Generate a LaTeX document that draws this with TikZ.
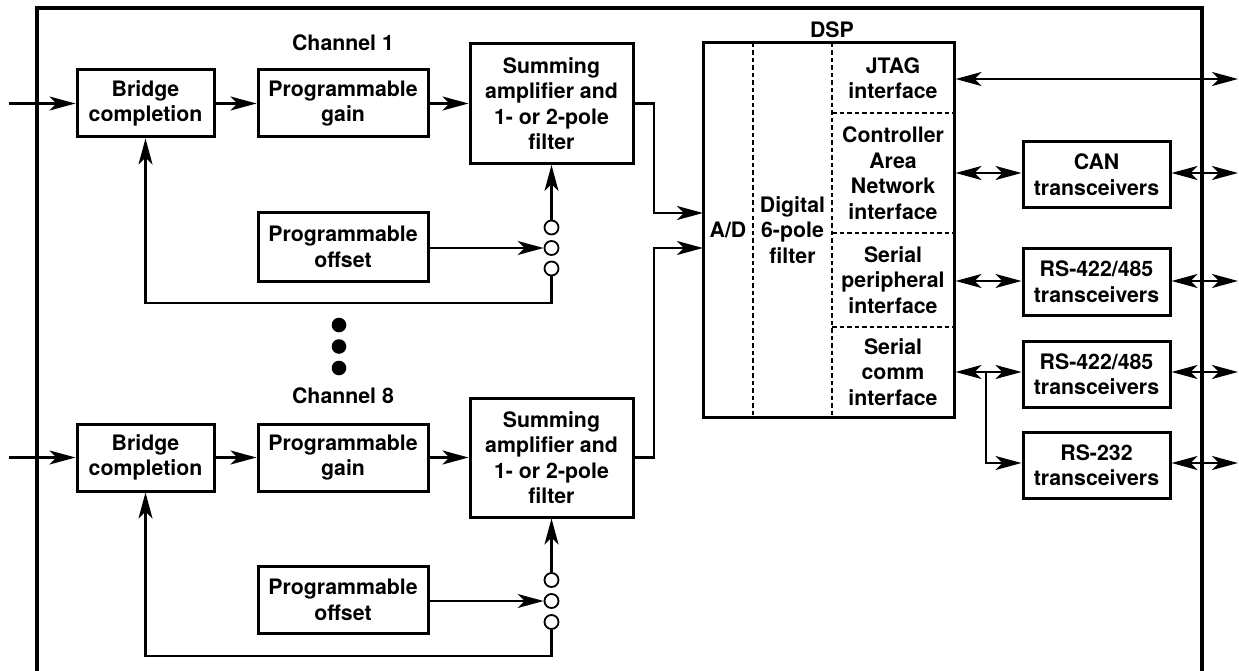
\documentclass[tikz,border=0pt]{standalone}
\usepackage{fontspec}
\setmainfont{TeX Gyre Heros}
\usetikzlibrary{arrows.meta}
\newcommand\figfont{\fontsize{21.3}{25.5}\selectfont\bfseries}
\begin{document}
\begin{tikzpicture}[x=1pt,y=-1pt,
  box/.style={draw, line width=3pt, inner sep=0pt, align=center, font=\figfont},
  lab/.style={inner sep=0pt, align=center, font=\figfont},
  tip/.tip={Stealth[length=26pt,width=14pt,inset=7pt]},
  arr/.style={line width=2.2pt, -tip},
  darr/.style={line width=2.2pt, tip-tip},
  sw/.style={circle, draw, line width=1.8pt, minimum size=14pt, inner sep=0pt},
  dsh/.style={line width=1.2pt, dash pattern=on 4.5pt off 3pt}]
\useasboundingbox (0,0) rectangle (1239,671);
% outer frame
\draw[line width=3.4pt] (37,671) -- (37,8) -- (1202,8) -- (1202,671);

% ---------- Channel 1
\node[lab] (ch1) at (343,43) {Channel 1};
\node[box, minimum width=137pt, minimum height=67pt] (br1) at (145.5,103.5) {Bridge\\completion};
\node[box, minimum width=170pt, minimum height=67pt] (ga1) at (343,103.5) {Programmable\\gain};
\node[box, minimum width=163pt, minimum height=120pt] (su1) at (551.5,103.5) {Summing\\amplifier and\\1- or 2-pole\\filter};
\node[box, minimum width=170pt, minimum height=68pt] (of1) at (343,247) {Programmable\\offset};
\node[sw] (s1a) at (551.5,227.5) {};
\node[sw] (s1b) at (551.5,248) {};
\node[sw] (s1c) at (551.5,268.5) {};
\coordinate (in1) at (9,103.5);
\coordinate (fb1) at (145.5,303);
\coordinate (ad1) at (703,213);
\draw[arr] (in1) -- (br1.west);
\draw[arr] (br1.east) -- (ga1.west);
\draw[arr] (ga1.east) -- (su1.west);
\draw[arr] (s1a.north) -- (su1.south);
\draw[arr] (of1.east |- s1b.west) -- (s1b.west);
\draw[arr] (s1c.south) |- (fb1) -- (br1.south);
\draw[arr] (su1.east) -- (654,103.5) |- (ad1);

% dots
\fill (339,325) circle (7.3pt);
\fill (339,346.5) circle (7.3pt);
\fill (339,368) circle (7.3pt);

% ---------- Channel 8
\node[lab] (ch8) at (343,396) {Channel 8};
\node[box, minimum width=137pt, minimum height=67pt] (br2) at (145.5,457.5) {Bridge\\completion};
\node[box, minimum width=170pt, minimum height=67pt] (ga2) at (343,457.5) {Programmable\\gain};
\node[box, minimum width=163pt, minimum height=119pt] (su2) at (551.5,457.5) {Summing\\amplifier and\\1- or 2-pole\\filter};
\node[box, minimum width=170pt, minimum height=67pt] (of2) at (343,600) {Programmable\\offset};
\node[sw] (s2a) at (551.5,580) {};
\node[sw] (s2b) at (551.5,601) {};
\node[sw] (s2c) at (551.5,622) {};
\coordinate (in2) at (9,457.5);
\coordinate (fb2) at (145.5,656);
\coordinate (ad2) at (703,248);
\draw[arr] (in2) -- (br2.west);
\draw[arr] (br2.east) -- (ga2.west);
\draw[arr] (ga2.east) -- (su2.west);
\draw[arr] (s2a.north) -- (su2.south);
\draw[arr] (of2.east |- s2b.west) -- (s2b.west);
\draw[arr] (s2c.south) |- (fb2) -- (br2.south);
\draw[arr] (su2.east) -- (654,457.5) |- (ad2);

% ---------- DSP
\node[lab] (dsplab) at (832,30) {DSP};
\node[draw, line width=3pt, minimum width=251pt, minimum height=374pt, inner sep=0pt] (dsp) at (828.5,230) {};
\draw[dsh] (753,43) -- (753,417);
\draw[dsh] (832,43) -- (832,417);
\draw[dsh] (832,113) -- (954,113);
\draw[dsh] (832,233) -- (954,233);
\draw[dsh] (832,327) -- (954,327);
\node[lab] (ad) at (728,230) {A/D};
\node[lab] (dig) at (792.5,230) {Digital\\6-pole\\filter};
\node[lab] (jtag) at (893,78) {JTAG\\interface};
\node[lab] (canif) at (893,173) {Controller\\Area\\Network\\interface};
\node[lab] (spi) at (893,280) {Serial\\peripheral\\interface};
\node[lab] (sci) at (893,372) {Serial\\comm\\interface};

% ---------- transceivers
\node[box, minimum width=147pt, minimum height=66pt] (can) at (1096.5,174.5) {CAN\\transceivers};
\node[box, minimum width=147pt, minimum height=67pt] (rs1) at (1096.5,281.5) {RS-422/485\\transceivers};
\node[box, minimum width=147pt, minimum height=66pt] (rs2) at (1096.5,374) {RS-422/485\\transceivers};
\node[box, minimum width=147pt, minimum height=66pt] (rs3) at (1096.5,465) {RS-232\\transceivers};

\coordinate (o0) at (1238,79);
\coordinate (o1) at (1238,173);
\coordinate (o2) at (1238,281);
\coordinate (o3) at (1238,372);
\coordinate (o4) at (1238,463);
\coordinate (br) at (986,372);

\draw[darr] (dsp.east |- o0) -- (o0);
\draw[darr] (dsp.east |- o1) -- (can.west |- o1);
\draw[darr] (can.east |- o1) -- (o1);
\draw[darr] (dsp.east |- o2) -- (rs1.west |- o2);
\draw[darr] (rs1.east |- o2) -- (o2);
\draw[darr] (dsp.east |- o3) -- (rs2.west |- o3);
\draw[darr] (rs2.east |- o3) -- (o3);
\draw[arr] (br) |- (rs3.west |- o4);
\draw[darr] (rs3.east |- o4) -- (o4);
\end{tikzpicture}
\end{document}
